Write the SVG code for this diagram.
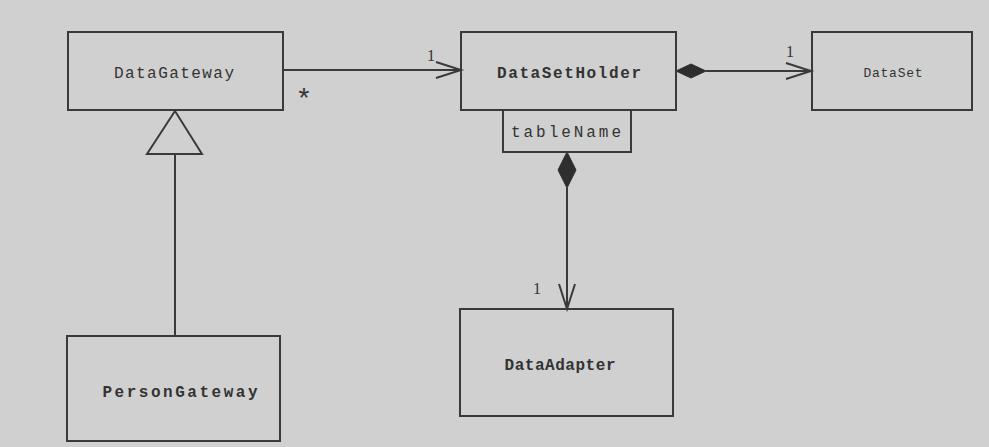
<svg xmlns="http://www.w3.org/2000/svg" width="989" height="447" viewBox="0 0 989 447">
<style>
.box{fill:none;stroke:#3a3a3a;stroke-width:2}
.ln{fill:none;stroke:#3a3a3a;stroke-width:2}
.lbl{font-family:"Liberation Mono","DejaVu Sans Mono",monospace;font-size:16px;fill:#333;text-anchor:middle}
.mult{font-family:"Liberation Serif","Times New Roman",serif;font-size:16px;fill:#333;text-anchor:middle}
</style>
<rect width="989" height="447" fill="#d0d0d0"/>
<g id="connectors">
<line class="ln" x1="283" y1="70" x2="460" y2="70"/>
<path class="ln" d="M436,62 L461,70 L436,78"/>
<text class="mult" x="431" y="61">1</text>
<text x="304" y="107" style="font-family:'Liberation Sans',Arial,sans-serif;font-size:28px;fill:#333;text-anchor:middle">*</text>
<polygon points="676,71 691,64 706,71 691,78" fill="#2e2e2e" stroke="#2e2e2e" stroke-width="1"/>
<line class="ln" x1="706" y1="71" x2="811" y2="71"/>
<path class="ln" d="M786,63 L811,71 L786,79"/>
<text class="mult" x="790" y="57">1</text>
<polygon points="567,152 576,170 567,188 558,170" fill="#2e2e2e" stroke="#2e2e2e" stroke-width="1"/>
<line class="ln" x1="567" y1="188" x2="567" y2="308"/>
<path class="ln" d="M559,284 L567,309 L575,284"/>
<text class="mult" x="537" y="294">1</text>
<polygon points="175,111 147,154 202,154" fill="none" stroke="#3a3a3a" stroke-width="2"/>
<line class="ln" x1="175" y1="154" x2="175" y2="336"/>
</g>
<g id="DataGateway">
<rect class="box" x="68" y="32" width="215" height="78"/>
<text class="lbl" x="174" y="78" textLength="120" lengthAdjust="spacing">DataGateway</text>
</g>
<g id="DataSetHolder">
<rect class="box" x="461" y="32" width="215" height="78"/>
<text class="lbl" x="569" y="78" style="font-weight:bold" textLength="144" lengthAdjust="spacing">DataSetHolder</text>
<rect class="box" x="503" y="110" width="128" height="42"/>
<text class="lbl" x="566" y="137" textLength="110" lengthAdjust="spacing">tableName</text>
</g>
<g id="DataSet">
<rect class="box" x="812" y="32" width="160" height="78"/>
<text class="lbl" x="893" y="77" style="font-size:13px" textLength="59" lengthAdjust="spacing">DataSet</text>
</g>
<g id="PersonGateway">
<rect class="box" x="67" y="336" width="213" height="105"/>
<text class="lbl" x="180" y="397" style="font-weight:bold" textLength="155" lengthAdjust="spacing">PersonGateway</text>
</g>
<g id="DataAdapter">
<rect class="box" x="460" y="309" width="213" height="107"/>
<text class="lbl" x="560" y="370" style="font-weight:bold" textLength="111" lengthAdjust="spacing">DataAdapter</text>
</g>
</svg>
